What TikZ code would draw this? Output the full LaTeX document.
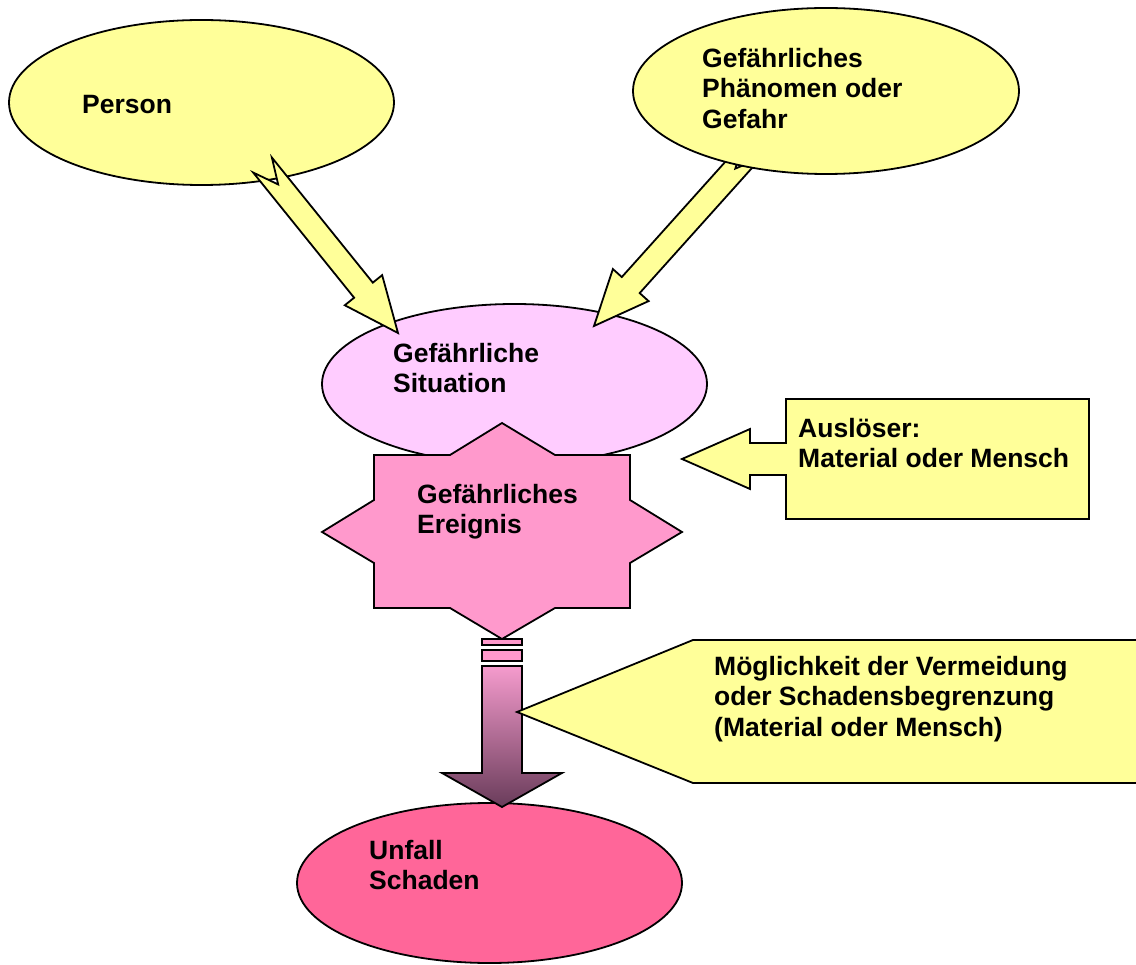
\documentclass[tikz,border=0pt]{standalone}
\usepackage{fontspec}
\setmainfont{Liberation Sans}
\usepackage{tikz}
\usetikzlibrary{shapes,arrows,positioning,calc}

\definecolor{paleyellow}{HTML}{FFFF99}
\definecolor{palepink}{HTML}{FFCCFF}
\definecolor{eventpink}{HTML}{FF99CC}
\definecolor{harmpink}{HTML}{FF6699}
\definecolor{arrowtop}{RGB}{245,155,205}
\definecolor{arrowbot}{RGB}{105,60,90}

\newcommand{\blockarrow}[2]{%
  \coordinate (#1-b) at ($(#2)!55pt!(#1)$);
  \coordinate (#1-n) at ($(#1)!25pt!(#2)$);
  \draw[block] ($(#1)!12pt!90:(#2)$) -- ($(#1-b)!12pt!90:(#2)$) -- ($(#1-b)!24pt!90:(#2)$) -- (#2)
    -- ($(#1-b)!24pt!-90:(#2)$) -- ($(#1-b)!12pt!-90:(#2)$) -- ($(#1)!12pt!-90:(#2)$) -- (#1-n) -- cycle;}

\begin{document}
\begin{tikzpicture}[
    x=1pt, y=-1pt,
    ell/.style={ellipse, draw=black, line width=1.8pt, inner sep=0pt},
    lbl/.style={anchor=north west, inner sep=0pt, align=left, font=\bfseries\fontsize{26.5}{30.5}\selectfont},
    block/.style={draw=black, line width=1.8pt, fill=paleyellow, line join=miter},
    outline/.style={draw=black, line width=1.8pt, line join=miter}
]
    \useasboundingbox (0,0) rectangle (1136,965);
    \clip (0,0) rectangle (1136,965);

    \node[ell, fill=palepink, minimum width=385pt, minimum height=160pt] (situation) at (514.5,384) {};

    % gefahr arrow runs under its ellipse
    \coordinate (gTail) at (752,150);
    \coordinate (gTip) at (594,326);
    \blockarrow{gTail}{gTip}
    \node[ell, fill=paleyellow, minimum width=386pt, minimum height=166pt] (danger) at (826,91) {};

    \node[ell, fill=paleyellow, minimum width=385pt, minimum height=165pt] (person) at (201.5,102.5) {};
    \coordinate (pTail) at (262.5,165);
    \coordinate (pTip) at (398,333);
    \blockarrow{pTail}{pTip}

    \node[lbl] (personText) at (82,95) {Person};
    \node[lbl] (dangerText) at (702,48) {Gefährliches\\Phänomen oder\\Gefahr};
    \node[lbl] (situationText) at (393,343) {Gefährliche\\Situation};

    % gefaehrliches ereignis
    \draw[outline, fill=eventpink] (502,423) -- (555,455) -- (630,455) -- (630,500) -- (682,532)
        -- (630,563) -- (630,608) -- (555,608) -- (502,639) -- (450,608) -- (374,608)
        -- (374,563) -- (322,532) -- (374,500) -- (374,455) -- (450,455) -- cycle;
    \coordinate (event) at (502,532);
    \node[lbl] (eventText) at (417,484) {Gefährliches\\Ereignis};

    \draw[outline, fill=paleyellow] (786,399) -- (1089,399) -- (1089,519) -- (786,519) -- (786,475)
        -- (750,475) -- (750,489) -- (682,459) -- (750,429) -- (750,443) -- (786,443) -- cycle;
    \coordinate (trigger) at (682,459);
    \node[lbl] (triggerText) at (798,418) {Auslöser:\\Material oder Mensch};

    \node[ell, fill=harmpink, minimum width=385pt, minimum height=160pt] (harm) at (489.5,883) {};
    \node[lbl] (harmText) at (369,840) {Unfall\\Schaden};

    % striped arrow
    \draw[outline, fill=eventpink] (482,639) rectangle (522,645);
    \draw[outline, fill=eventpink] (482,650) rectangle (522,661);
    \draw[outline, top color=arrowtop, bottom color=arrowbot] (482,666) -- (522,666) -- (522,773)
        -- (562,773) -- (502,807) -- (442,773) -- (482,773) -- cycle;

    \draw[outline, fill=paleyellow] (517,712) -- (693,640) -- (1150,640) -- (1150,783) -- (693,783) -- cycle;
    \node[lbl] (limitText) at (714,656) {Möglichkeit der Vermeidung\\oder Schadensbegrenzung\\(Material oder Mensch)};
\end{tikzpicture}
\end{document}
